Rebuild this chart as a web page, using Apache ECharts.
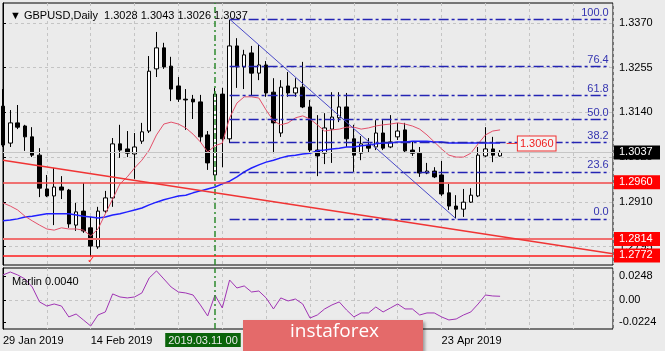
<!DOCTYPE html>
<html>
<head>
<meta charset="utf-8">
<script src="https://cdn.jsdelivr.net/npm/echarts@6/dist/echarts.min.js"></script>
<style>
html,body{margin:0;padding:0;background:#ebebeb;}
#main{width:665px;height:351px;}
</style>
</head>
<body>
<div id="main"></div>
<script>
// daily bars, Jan 29 - May 3 2019
var dates = ['2019.01.29','2019.01.30','2019.01.31',
  '2019.02.01','2019.02.04','2019.02.05','2019.02.06','2019.02.07','2019.02.08','2019.02.11','2019.02.12','2019.02.13','2019.02.14',
  '2019.02.15','2019.02.18','2019.02.19','2019.02.20','2019.02.21','2019.02.22','2019.02.25','2019.02.26','2019.02.27','2019.02.28',
  '2019.03.01','2019.03.04','2019.03.05','2019.03.06','2019.03.07','2019.03.08','2019.03.11','2019.03.12','2019.03.13','2019.03.14',
  '2019.03.15','2019.03.18','2019.03.19','2019.03.20','2019.03.21','2019.03.22','2019.03.25','2019.03.26','2019.03.27','2019.03.28',
  '2019.03.29','2019.04.01','2019.04.02','2019.04.03','2019.04.04','2019.04.05','2019.04.08','2019.04.09','2019.04.10','2019.04.11',
  '2019.04.12','2019.04.15','2019.04.16','2019.04.17','2019.04.18','2019.04.19','2019.04.22','2019.04.23','2019.04.24','2019.04.25',
  '2019.04.26','2019.04.29','2019.04.30','2019.05.01','2019.05.02','2019.05.03'];

var opens = [1.3156,1.3061,1.3113,1.3105,1.3077,1.3030,1.2943,1.2925,1.2948,1.2940,
  1.2850,1.2886,1.2843,1.2794,1.2886,1.2920,1.3059,1.3046,1.3033,1.3066,
  1.3092,1.3252,1.3306,1.3259,1.3208,1.3174,1.3174,1.3167,1.3082,1.2979,
  1.3187,1.3072,1.3311,1.3257,1.3293,1.3241,1.3262,1.3192,1.3087,1.3208,
  1.3190,1.3205,1.3154,1.3043,1.3035,1.3097,1.3126,1.3154,1.3072,1.3035,
  1.3056,1.3051,1.3087,1.3051,1.3077,1.3095,1.3043,1.3035,1.2984,1.2989,
  1.2979,1.2933,1.2899,1.2891,1.2909,1.2925,1.3028,1.3046,1.3028];
var closes = [1.3056,1.3113,1.3102,1.3077,1.3030,1.2945,1.2925,1.2948,1.2940,1.2853,
  1.2884,1.2835,1.2796,1.2886,1.2920,1.3059,1.3043,1.3035,1.3051,1.3090,
  1.3246,1.3306,1.3257,1.3200,1.3174,1.3172,1.3167,1.3077,1.3010,1.3187,
  1.3072,1.3311,1.3257,1.3288,1.3241,1.3262,1.3190,1.3113,1.3205,1.3190,
  1.3203,1.3154,1.3043,1.3028,1.3100,1.3128,1.3154,1.3072,1.3030,1.3059,
  1.3048,1.3087,1.3048,1.3064,1.3092,1.3041,1.3035,1.2984,1.2989,1.2974,
  1.2930,1.2899,1.2891,1.2909,1.2927,1.3030,1.3046,1.3030,1.3037];
var lows = [1.3051,1.3051,1.3097,1.3041,1.3025,1.2922,1.2922,1.2850,1.2917,1.2843,
  1.2835,1.2830,1.2770,1.2789,1.2881,1.2897,1.3023,1.3025,1.2969,1.3059,
  1.3087,1.3231,1.3252,1.3169,1.3167,1.3095,1.3123,1.3064,1.2992,1.2966,
  1.2999,1.3061,1.3203,1.3200,1.3182,1.3223,1.3180,1.3035,1.3077,1.3180,
  1.3180,1.3151,1.3038,1.2976,1.3007,1.3010,1.3115,1.3051,1.2987,1.3017,
  1.3038,1.3043,1.3043,1.3048,1.3069,1.3038,1.3028,1.2974,1.2981,1.2971,
  1.2925,1.2889,1.2868,1.2871,1.2907,1.2922,1.3025,1.3012,1.3026];
var highs = [1.3200,1.3146,1.3159,1.3108,1.3102,1.3048,1.2979,1.2997,1.2976,1.2943,
  1.2907,1.2958,1.2871,1.2897,1.2938,1.3074,1.3108,1.3092,1.3087,1.3113,
  1.3285,1.3347,1.3319,1.3283,1.3231,1.3200,1.3185,1.3185,1.3092,1.3203,
  1.3203,1.3378,1.3331,1.3301,1.3311,1.3313,1.3272,1.3228,1.3223,1.3244,
  1.3228,1.3270,1.3172,1.3133,1.3138,1.3192,1.3192,1.3190,1.3108,1.3079,
  1.3074,1.3120,1.3120,1.3133,1.3113,1.3113,1.3064,1.3051,1.3010,1.2999,
  1.3015,1.2956,1.2927,1.2943,1.2945,1.3051,1.3102,1.3077,1.3043];

// moving averages
var maRed = [1.2907,1.2899,1.2889,1.2873,1.2861,1.2850,1.2840,1.2837,1.2843,1.2840,
  1.2840,1.2837,1.2822,1.2840,1.2879,1.2917,1.2956,1.2974,1.2997,1.3017,
  1.3043,1.3082,1.3110,1.3115,1.3110,1.3100,1.3084,1.3064,1.3038,1.3054,
  1.3061,1.3126,1.3164,1.3180,1.3180,1.3177,1.3146,1.3118,1.3108,1.3113,
  1.3126,1.3131,1.3123,1.3108,1.3092,1.3095,1.3097,1.3102,1.3102,1.3097,
  1.3100,1.3105,1.3108,1.3110,1.3113,1.3110,1.3105,1.3097,1.3082,1.3064,
  1.3046,1.3030,1.3025,1.3025,1.3035,1.3059,1.3082,1.3092,1.3095];
var maBlue = [1.2861,1.2863,1.2866,1.2871,1.2873,1.2876,1.2879,1.2879,1.2879,1.2879,
  1.2876,1.2873,1.2871,1.2868,1.2871,1.2876,1.2879,1.2884,1.2889,1.2894,
  1.2902,1.2909,1.2915,1.2920,1.2925,1.2927,1.2933,1.2938,1.2943,1.2948,
  1.2956,1.2963,1.2974,1.2987,1.2997,1.3005,1.3012,1.3017,1.3023,1.3028,
  1.3030,1.3033,1.3035,1.3041,1.3043,1.3046,1.3048,1.3051,1.3051,1.3054,
  1.3056,1.3059,1.3061,1.3061,1.3064,1.3064,1.3066,1.3066,1.3066,1.3064,
  1.3064,1.3061,1.3061,1.3061,1.3061,1.3061,1.3061,1.3061,1.3061];

// Marlin oscillator
var marlin = [0.0259,0.0289,0.0259,0.0218,0.0135,-0.0018,-0.0060,-0.0039,-0.0060,-0.0172,
  -0.0142,-0.0203,-0.0265,-0.0152,-0.0121,0.0064,0.0033,0.0023,0.0033,0.0074,
  0.0228,0.0300,0.0218,0.0135,0.0084,0.0074,0.0053,-0.0049,-0.0162,0.0053,
  -0.0080,0.0207,0.0125,0.0146,0.0084,0.0094,0.0023,-0.0090,0.0023,-0.0008,
  0.0012,-0.0039,-0.0183,-0.0152,-0.0090,-0.0049,-0.0018,-0.0101,-0.0172,-0.0131,
  -0.0131,-0.0070,-0.0121,-0.0080,-0.0039,-0.0090,-0.0090,-0.0152,-0.0131,-0.0131,
  -0.0172,-0.0203,-0.0193,-0.0152,-0.0121,-0.0039,0.0053,0.0043,0.0040];

var priceTicks = [1.2795,1.2910,1.3025,1.3140,1.3255,1.3370];
var marlinTicks = [-0.0224,0,0.0248];
var dateLabelIdx = [0,12,60];

// fibo retracement
var fibNames = ['0.0','23.6','38.2','50.0','61.8','76.4','100.0'];
var fibPrices = [1.2866,1.2987,1.3062,1.3123,1.3184,1.3259,1.3380];

// horizontal levels
var levels = [1.2960,1.2814,1.2772];
var levelColors = ['#f04848','#f07070','#ff1c1c'];
var levelWidths = [1.5,2,1.5];
var lastPrice = 1.3037;
var noteLevel = 1.3060;
var crossIdx = 29;

var xMax = 83.45;
var FONT = 'Liberation Sans';
var months = ['Jan','Feb','Mar','Apr','May','Jun','Jul','Aug','Sep','Oct','Nov','Dec'];

function fmtDate(s){
    var p = s.split('.');
    return Number(p[2]) + ' ' + months[Number(p[1]) - 1] + ' ' + p[0];
}

var candles = [];
var redData = [], blueData = [], marlinData = [];
for (var i = 0; i < dates.length; i++) {
    candles.push([i, opens[i], closes[i], lows[i], highs[i]]);
    redData.push([i, maRed[i]]);
    blueData.push([i, maBlue[i]]);
    marlinData.push([i, marlin[i]]);
}

var gridLine = {show:true, lineStyle:{color:'#c4c4c4', type:[3,3], width:1}};

function boxLabel(text, bg){
    return {show:true, position:'end', distance:1, formatter:text,
        backgroundColor:bg, color:'#fff', padding:[2,4,1,5], width:37,
        fontFamily:FONT, fontSize:11};
}

// 价位线 + 标签
var mainMarks = [];
mainMarks.push({
    yAxis: lastPrice,
    lineStyle: {color:'#c6c6c6', width:1, type:'solid'},
    label: boxLabel(lastPrice.toFixed(4), '#000')
});
levels.forEach(function(v, k){
    mainMarks.push({
        yAxis: v,
        lineStyle: {color: levelColors[k], width: levelWidths[k], type: 'solid'},
        label: boxLabel(v.toFixed(4), '#ff0000')
    });
});
mainMarks.push({
    xAxis: crossIdx,
    lineStyle: {color:'#2e8b2e', width:1.5, type:[6,3,2,3]},
    label: {show:false}
});
// trend lines
mainMarks.push([{coord:[0, 1.3017], lineStyle:{color:'#f03434', width:1.5, type:'solid'}}, {coord:[xMax, 1.2776]}]);
mainMarks.push([{coord:[31, 1.3380], lineStyle:{color:'#4a4ac8', width:1, type:'solid'}}, {coord:[62, 1.2866]}]);
mainMarks.push([{coord:[68.9, noteLevel], lineStyle:{color:'#f04040', width:1, type:'solid'},
    label:{show:true, position:'end', distance:1, formatter:noteLevel.toFixed(4),
        color:'#f02020', backgroundColor:'#f4f4f4', borderColor:'#f03030', borderWidth:1,
        padding:[2,2,1,2], fontFamily:FONT, fontSize:11}},
    {coord:[70.3, noteLevel]}]);

var fibLines = fibPrices.map(function(v){
    return [{coord:[31, v]}, {coord:[83.0, v]}];
});

var myChart = echarts.init(document.getElementById('main'));
var option = {
    animation: false,
    backgroundColor: '#ebebeb',
    textStyle: {fontFamily: FONT, fontSize: 11, color: '#000'},
    title: [
        {text:'▼ GBPUSD,Daily  1.3028 1.3043 1.3026 1.3037', left:5, top:5,
            textStyle:{fontFamily:FONT, fontSize:11, fontWeight:'normal', color:'#000'}},
        {text:'Marlin 0.0040', left:7, top:271,
            textStyle:{fontFamily:FONT, fontSize:11, fontWeight:'normal', color:'#000'}}
    ],
    grid: [
        {left:3, top:3, width:610, height:262, show:true, borderColor:'#000', borderWidth:1},
        {left:3, top:268, width:610, height:61, show:true, borderColor:'#000', borderWidth:1}
    ],
    xAxis: [
        {type:'value', gridIndex:0, min:0, max:xMax, interval:6,
            axisLine:{show:false}, axisTick:{show:false}, axisLabel:{show:false}, splitLine:gridLine},
        {type:'value', gridIndex:1, min:0, max:xMax, interval:6,
            axisLine:{show:false}, axisTick:{show:false}, splitLine:gridLine,
            axisLabel:{show:true, align:'left', margin:6, color:'#000', fontFamily:FONT, fontSize:11,
                formatter:function(v){
                    return dateLabelIdx.indexOf(v) >= 0 ? fmtDate(dates[v]) : '';
                }}}
    ],
    yAxis: [
        {type:'value', gridIndex:0, position:'right', min:1.274733, max:1.342146,
            axisLine:{show:true, lineStyle:{color:'#000'}},
            axisTick:{show:true, length:3, customValues:priceTicks, lineStyle:{color:'#000'}},
            axisLabel:{customValues:priceTicks, margin:6, color:'#000', fontFamily:FONT, fontSize:11,
                formatter:function(v){ return v.toFixed(4); }},
            splitLine:gridLine},
        {type:'value', gridIndex:1, position:'right', min:-0.02958, max:0.03301,
            axisLine:{show:true, lineStyle:{color:'#000'}},
            axisTick:{show:true, length:3, customValues:marlinTicks, lineStyle:{color:'#000'}},
            axisLabel:{customValues:marlinTicks, margin:6, color:'#000', fontFamily:FONT, fontSize:11,
                formatter:function(v){ return v === 0 ? '0.00' : v.toFixed(4); }},
            splitLine:{show:true, lineStyle:{color:['transparent','#c4c4c4','transparent'], type:[3,3]}}}
    ],
    series: [
        {
            type:'candlestick', xAxisIndex:0, yAxisIndex:0, z:2,
            dimensions:['idx','open','close','lowest','highest'],
            encode:{x:'idx', y:['open','close','lowest','highest']},
            barWidth:4,
            data:candles,
            itemStyle:{color:'#fff', color0:'#000', borderColor:'#000', borderColor0:'#000', borderWidth:1}
        },
        {
            type:'line', xAxisIndex:0, yAxisIndex:0, z:3, data:blueData,
            symbol:'none', lineStyle:{color:'#2020ff', width:1.5},
            markLine:{symbol:['none','none'], silent:true, animation:false, precision:4,
                lineStyle:{color:'#2424b4', width:1.3, type:[10,3,3,3]},
                label:{show:true, position:'insideEndTop', distance:1, color:'#3434b0', fontFamily:FONT, fontSize:11,
                    formatter:function(p){ return fibNames[p.dataIndex]; }},
                data:fibLines}
        },
        {
            type:'line', xAxisIndex:0, yAxisIndex:0, z:3, data:redData,
            symbol:'none', lineStyle:{color:'#e4506a', width:1},
            markLine:{symbol:['none','none'], silent:true, animation:false, precision:4,
                label:{show:false},
                data:mainMarks},
            markPoint:{silent:true, symbolSize:0,
                label:{show:true, position:'inside', formatter:'✓', color:'#ff2020', fontSize:10},
                data:[{coord:[12, 1.2760]}]}
        },
        {
            type:'line', xAxisIndex:1, yAxisIndex:1, data:marlinData,
            symbol:'none', lineStyle:{color:'#a034b4', width:1},
            markLine:{symbol:['none','none'], silent:true, animation:false,
                data:[{xAxis:crossIdx, lineStyle:{color:'#2e8b2e', width:1.5, type:[6,3,2,3]},
                    label:{show:true, position:'start', distance:4, offset:[-12,0],
                        formatter:dates[crossIdx] + ' 00', backgroundColor:'#0a640a', color:'#e8e8e8',
                        padding:[2,3,1,3], fontFamily:FONT, fontSize:11}}]}
        }
    ],
    graphic: [
        {type:'rect', left:243, top:320, z:100, shape:{width:180, height:34},
            style:{fill:'#e46a6a', shadowBlur:3, shadowColor:'rgba(0,0,0,0.35)', shadowOffsetX:2, shadowOffsetY:2}},
        {type:'text', left:290, top:322, z:101,
            style:{text:'instaforex', fill:'#fff', font:'19px "Open Sans"'}}
    ]
};
myChart.setOption(option);
</script>
</body>
</html>
